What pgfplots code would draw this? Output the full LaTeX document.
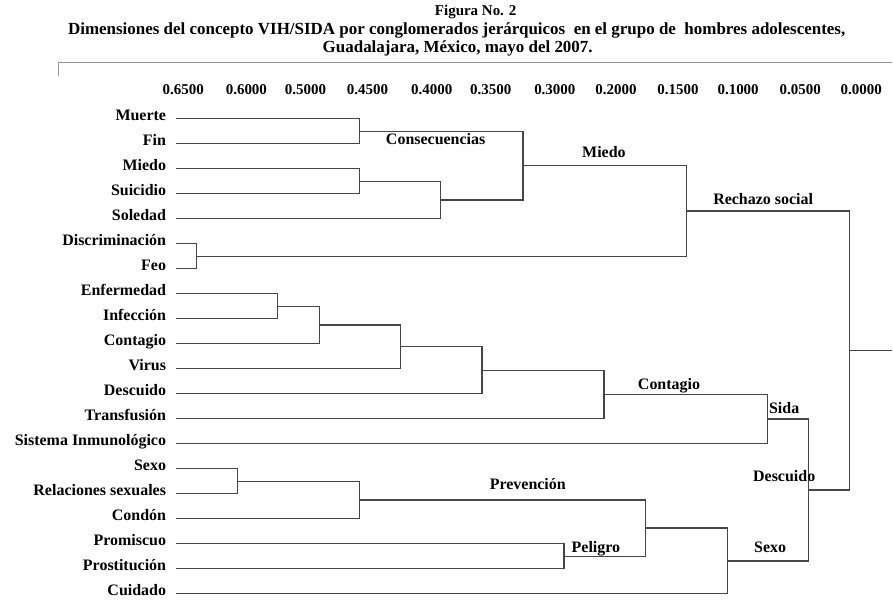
\documentclass[border=0pt]{standalone}
\usepackage{pgfplots}
\pgfplotsset{compat=1.18}
\usepackage{fontspec}
\setmainfont{Liberation Serif}
\definecolor{dline}{RGB}{70,70,70}
\definecolor{rule}{RGB}{150,150,150}
\pgfplotsset{dl/.style={draw=dline, line width=1.3bp, mark=none, solid}}
\begin{document}
\begin{tikzpicture}
\begin{axis}[
  scale only axis, width=715bp, height=512bp,
  xmin=178, xmax=893, ymin=0.2588, ymax=20.771, y dir=reverse,
  clip=false,
  axis line style={draw=none}, major tick length=0pt,
  xtick={185,248,307,369,433,492,556,617,679,739,801,862},
  xticklabels={0.6500,0.6000,0.5000,0.4500,0.4000,0.3500,0.3000,0.2000,0.1500,0.1000,0.0500,0.0000},
  xticklabel pos=right,
  xticklabel style={font=\bfseries\fontsize{15}{17}\selectfont, anchor=base, inner sep=0pt, yshift=6bp},
  ytick={1,...,20},
  yticklabels={Muerte,Fin,Miedo,Suicidio,Soledad,Discriminación,Feo,Enfermedad,Infección,Contagio,Virus,Descuido,Transfusión,Sistema Inmunológico,Sexo,Relaciones sexuales,Condón,Promiscuo,Prostitución,Cuidado},
  yticklabel style={font=\bfseries\fontsize{16}{18}\selectfont, anchor=base east, inner sep=0pt, xshift=-10bp, yshift=-1.5bp},
]
% frame of the whole picture (invisible)
\path (axis cs:2,-3.748) rectangle (axis cs:893,20.771);
% top rule
\addplot[draw=rule, line width=1bp, mark=none] coordinates {(60,-0.703) (60,-1.264) (893,-1.264)};
% dendrogram merges
\addplot[dl] coordinates {(178,1) (360.7,1) (360.7,2) (178,2)};
\addplot[dl] coordinates {(178,3) (360.7,3) (360.7,4) (178,4)};
\addplot[dl] coordinates {(360.7,3.5) (442,3.5) (442,5) (178,5)};
\addplot[dl] coordinates {(360.7,1.5) (524.3,1.5) (524.3,4.25) (442,4.25)};
\addplot[dl] coordinates {(178,6) (198.3,6) (198.3,7) (178,7)};
\addplot[dl] coordinates {(524.3,2.875) (687.3,2.875) (687.3,6.5) (198.3,6.5)};
\addplot[dl] coordinates {(178,8) (279.3,8) (279.3,9) (178,9)};
\addplot[dl] coordinates {(279.3,8.5) (320.7,8.5) (320.7,10) (178,10)};
\addplot[dl] coordinates {(320.7,9.25) (401.7,9.25) (401.7,11) (178,11)};
\addplot[dl] coordinates {(401.7,10.125) (483.3,10.125) (483.3,12) (178,12)};
\addplot[dl] coordinates {(483.3,11.0625) (605,11.0625) (605,13) (178,13)};
\addplot[dl] coordinates {(605,12.03125) (768.3,12.03125) (768.3,14) (178,14)};
\addplot[dl] coordinates {(178,15) (239.3,15) (239.3,16) (178,16)};
\addplot[dl] coordinates {(239.3,15.5) (360.7,15.5) (360.7,17) (178,17)};
\addplot[dl] coordinates {(178,18) (565,18) (565,19) (178,19)};
\addplot[dl] coordinates {(360.7,16.25) (646.7,16.25) (646.7,18.5) (565,18.5)};
\addplot[dl] coordinates {(646.7,17.375) (728.3,17.375) (728.3,20) (178,20)};
\addplot[dl] coordinates {(768.3,13.015625) (809.3,13.015625) (809.3,18.6875) (728.3,18.6875)};
\addplot[dl] coordinates {(687.3,4.6875) (850,4.6875) (850,15.8516) (809.3,15.8516)};
\addplot[dl] coordinates {(850,10.2695) (893,10.2695)};
% cluster labels
\begin{scope}[every node/.style={font=\bfseries\fontsize{16}{18}\selectfont, inner sep=0pt, anchor=base}]
\node at (axis cs:437,2.021) {Consecuencias};
\node at (axis cs:605,2.570) {Miedo};
\node at (axis cs:764,4.425) {Rechazo social};
\node at (axis cs:670,11.837) {Contagio};
\node at (axis cs:785,12.799) {Sida};
\node at (axis cs:529,15.844) {Prevención};
\node at (axis cs:597,18.355) {Peligro};
\node at (axis cs:785,15.523) {Descuido};
\node at (axis cs:771,18.355) {Sexo};
\end{scope}
% titles
\begin{scope}[every node/.style={inner sep=0pt, anchor=base}]
\node[font=\bfseries\fontsize{15}{17}\selectfont] at (axis cs:477,-3.147) {Figura No. 2};
\node[font=\bfseries\fontsize{17}{19}\selectfont] at (axis cs:458,-2.386) {Dimensiones del concepto VIH/SIDA por conglomerados jerárquicos\ \ en el grupo de\ \ hombres adolescentes,};
\node[font=\bfseries\fontsize{17}{19}\selectfont] at (axis cs:459,-1.665) {Guadalajara, México, mayo del 2007.};
\end{scope}
\end{axis}
\end{tikzpicture}
\end{document}
